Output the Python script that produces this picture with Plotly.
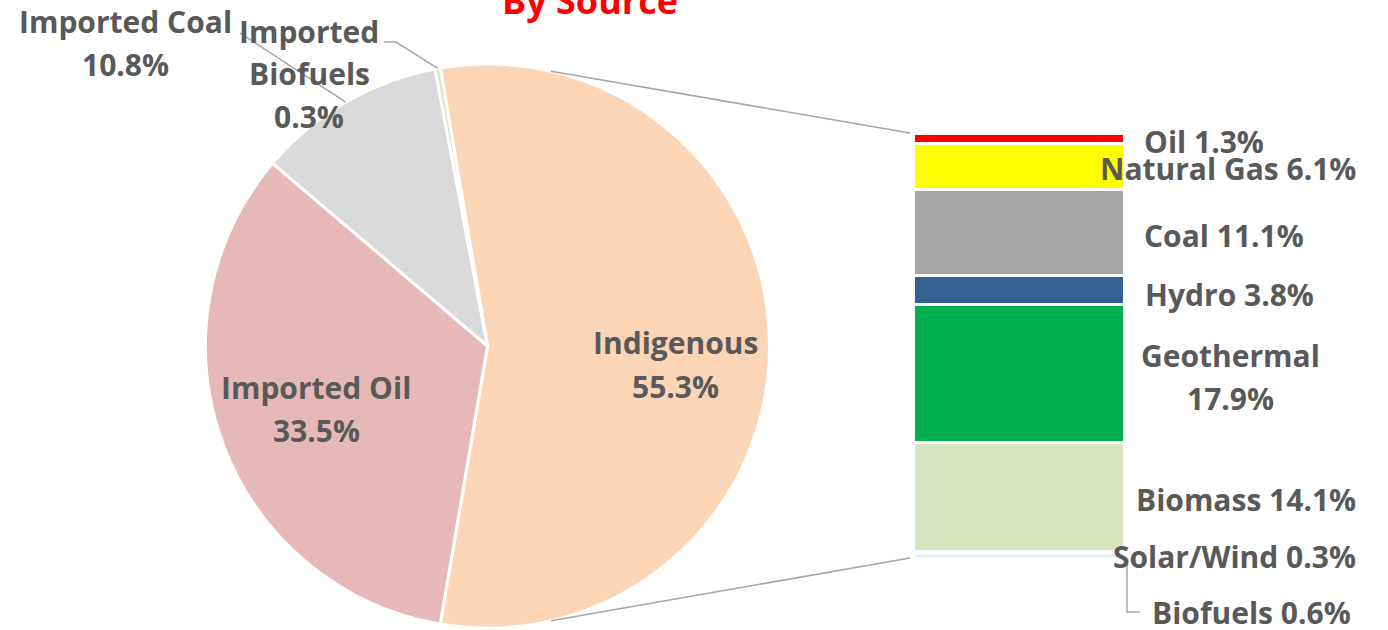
import math
import plotly.graph_objects as go

# ---------------- data ----------------
pie_labels = ["Indigenous", "Imported Oil", "Imported Coal", "Imported Biofuels"]
pie_values = [55.3, 33.5, 10.8, 0.3]

bar_labels = ["Oil", "Natural Gas", "Coal", "Hydro", "Geothermal", "Biomass", "Solar/Wind", "Biofuels"]
bar_values = [1.3, 6.1, 11.1, 3.8, 17.9, 14.1, 0.3, 0.6]

title_text = "By Source"

# ---------------- styles ----------------
pie_colors = ["#FBD5B5", "#E6B9B8", "#D9D9D9", "#D7E4BD"]
bar_colors = ["#FF0000", "#FFFF00", "#A6A6A6", "#376092", "#00B050", "#D7E4BD", "#FFFFFF", "#DAEEF3"]
TXT = "#595959"
FONT = "Open Sans"
FS = 30

W, H = 1388, 630
# layout geometry (pixels)
CX, CY, R = 487.5, 346, 282
BX0, BX1, BY0, BY1 = 913, 1124, 133, 558
CONNECT_ANGLE = 13  # degrees from vertical where connector lines meet pie


def px(x):
    return x / W


def py(y):
    return 1 - y / H


fig = go.Figure()

pie_total = sum(pie_values)
rotation = 90 - pie_values[0] / pie_total * 360 / 2
fig.add_trace(go.Pie(
    labels=pie_labels, values=pie_values, sort=False, direction="clockwise",
    rotation=rotation,
    marker=dict(colors=pie_colors, line=dict(color="white", width=3)),
    textinfo="none", showlegend=False, hoverinfo="label+percent",
    domain=dict(x=[px(CX - R), px(CX + R)], y=[py(CY + R), py(CY - R)]),
))

bar_total = sum(bar_values)
for lab, val, col in zip(bar_labels, bar_values, bar_colors):
    fig.add_trace(go.Bar(
        x=[0], y=[val], name=lab, width=1,
        marker=dict(color=col, line=dict(color="white", width=3)),
        showlegend=False, hovertemplate=lab + ": %{y}%<extra></extra>",
    ))

fig.update_layout(
    width=W, height=H, barmode="stack",
    margin=dict(l=0, r=0, t=0, b=0),
    paper_bgcolor="white", plot_bgcolor="rgba(0,0,0,0)",
    xaxis=dict(domain=[px(BX0), px(BX1)], range=[-0.5, 0.5], visible=False, fixedrange=True),
    yaxis=dict(domain=[py(BY1), py(BY0)], range=[bar_total, 0], visible=False, fixedrange=True),
    font=dict(family=FONT, color=TXT),
)


# ------------- helpers -------------
def edge_point(angle_deg, rr=R):
    a = math.radians(angle_deg)
    return CX + rr * math.sin(a), CY - rr * math.cos(a)


def add_label(lines, x, y, anchor="center", spacing=43, color=TXT, size=FS):
    n = len(lines)
    for i, t in enumerate(lines):
        yy = y + (i - (n - 1) / 2) * spacing
        fig.add_annotation(text=t, x=px(x), y=py(yy), xref="paper", yref="paper",
                           xanchor=anchor, yanchor="middle", showarrow=False,
                           font=dict(family=FONT, size=size, color=color, weight="bold"))


line_style = dict(color="#A6A6A6", width=1.5)

# slice mid angles
mids = []
start = rotation
for v in pie_values:
    span = v / pie_total * 360
    mids.append(start + span / 2)
    start += span

# connector lines pie -> bar
x1, y1 = edge_point(CONNECT_ANGLE)
x2, y2 = edge_point(180 - CONNECT_ANGLE)
for (xa, ya), (xb, yb) in [((x1, y1), (BX0 - 3, BY0)), ((x2, y2), (BX0 - 3, BY1))]:
    fig.add_shape(type="line", xref="paper", yref="paper",
                  x0=px(xa), y0=py(ya), x1=px(xb), y1=py(yb), line=line_style)

# leader: Imported Coal
cx_, cy_ = edge_point(mids[2])
fig.add_shape(type="line", xref="paper", yref="paper",
              x0=px(240), y0=py(33), x1=px(cx_), y1=py(cy_), line=line_style)
# leader: Imported Biofuels
bx_, by_ = edge_point(mids[3])
fig.add_shape(type="path", xref="paper", yref="paper",
              path=f"M {px(bx_)} {py(by_)} L {px(396)} {py(42)} L {px(384)} {py(42)}",
              line=line_style)
# leader: bar Biofuels
fig.add_shape(type="path", xref="paper", yref="paper",
              path=f"M {px(BX1 + 3)} {py(BY1 + 2)} L {px(BX1 + 3)} {py(612)} L {px(BX1 + 16)} {py(612)}",
              line=line_style)

# ------------- pie labels -------------
add_label(["Imported Coal", f"{pie_values[2]}%"], 125, 43.5)
add_label(["Imported", "Biofuels", f"{pie_values[3]}%"], 309, 73.5, spacing=42.5)
add_label([pie_labels[0], f"{pie_values[0]}%"], 675, 364.5)
add_label([pie_labels[1], f"{pie_values[1]}%"], 316, 408.5)

# ------------- bar labels -------------
bar_label_pos = [  # (x px, anchor, yshift px)
    (1142, "left", -3),
    (1358, "right", -2.5),
    (1142, "left", -3),
    (1143, "left", -4),
    (1230, "center", -3),
    (1358, "right", -3),
    (1358, "right", -4),
    (1150, "left", -57),
]
cum = 0
for (lab, val), (xx, anc, ysh) in zip(zip(bar_labels, bar_values), bar_label_pos):
    mid = cum + val / 2
    cum += val
    if lab == "Geothermal":
        lines = [lab, f"{val}%"]
        for i, t in enumerate(lines):
            fig.add_annotation(text=t, x=px(xx), xref="paper", y=mid, yref="y",
                               xanchor=anc, yanchor="middle", yshift=ysh - (i - 0.5) * 43,
                               showarrow=False,
                               font=dict(family=FONT, size=FS, color=TXT, weight="bold"))
    else:
        fig.add_annotation(text=f"{lab} {val}%", x=px(xx), xref="paper", y=mid, yref="y",
                           xanchor=anc, yanchor="middle", yshift=ysh, showarrow=False,
                           font=dict(family=FONT, size=FS, color=TXT, weight="bold"))

# ------------- title -------------
fig.add_annotation(text=title_text, x=px(590), y=1, xref="paper", yref="paper",
                   xanchor="center", yanchor="middle", showarrow=False,
                   font=dict(family=FONT, size=36, color="#FF0000", weight="bold"))

fig.write_html("out.html", config={"displayModeBar": False},
               post_script="document.body.style.margin='0';document.body.style.overflow='hidden';")
